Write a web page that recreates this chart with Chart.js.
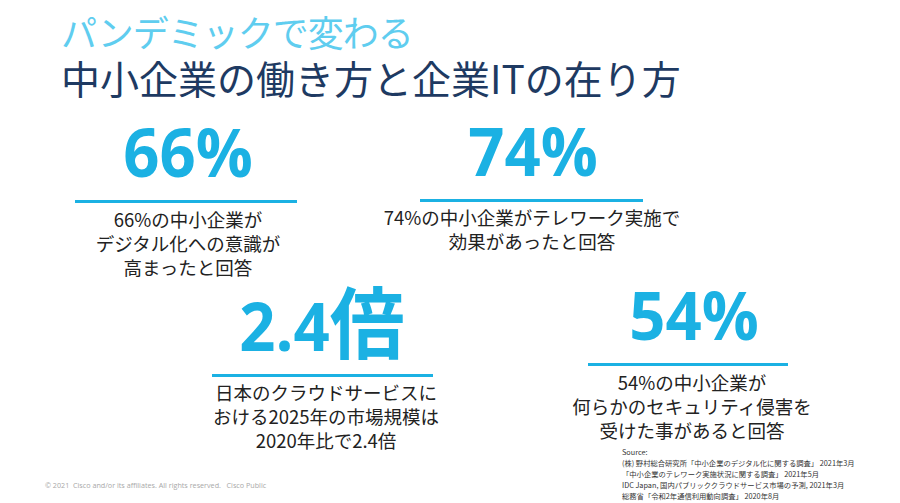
<!DOCTYPE html>
<html lang="ja">
<head>
    <meta charset="UTF-8">
    <title>パンデミックで変わる 中小企業の働き方と企業ITの在り方</title>
    <script src="https://cdn.jsdelivr.net/npm/chart.js"></script>
    <style>
        html, body { margin: 0; padding: 0; background: #fff; }
        body { width: 900px; height: 503px; position: relative; overflow: hidden;
               font-family: 'Noto Sans CJK JP', 'Noto Sans', sans-serif; }
        .t1 { position: absolute; left: 61px; top: 6px; font-size: 36px; letter-spacing: -1px; line-height: 50px; color: #5fcdef; }
        .t2 { position: absolute; left: 61px; top: 52px; font-size: 39px; line-height: 50px; color: #1e3a62; }
        .note { position: absolute; width: 340px; text-align: center; font-size: 18.5px; line-height: 24px; color: #222; }
        .src { position: absolute; left: 622px; top: 447px; font-size: 7.3px; line-height: 11px; color: #333; white-space: pre; }
        .foot { position: absolute; left: 45px; top: 480px; font-family: 'Open Sans', sans-serif; font-size: 7.2px; color: #a8a8a8; white-space: pre; }
    </style>
</head>
<body>
    <div class="t1" id="title1"></div>
    <div class="t2" id="title2"></div>
    <div id="cards"></div>
    <div class="src" id="sources"></div>
    <div class="foot" id="footer"></div>

    <script>
        const titleLines = ['パンデミックで変わる', '中小企業の働き方と企業ITの在り方'];
        const statValues = [66, 74, 2.4, 54];
        const statUnits = ['%', '%', '倍', '%'];
        const statNotes = [
            ['66%の中小企業が', 'デジタル化への意識が', '高まったと回答'],
            ['74%の中小企業がテレワーク実施で', '効果があったと回答'],
            ['日本のクラウドサービスに', 'おける2025年の市場規模は', '2020年比で2.4倍'],
            ['54%の中小企業が', '何らかのセキュリティ侵害を', '受けた事があると回答']
        ];
        const sourceLines = [
            'Source:',
            '(株) 野村総合研究所「中小企業のデジタル化に関する調査」 2021年3月',
            '「中小企業のテレワーク実施状況に関する調査」 2021年5月',
            'IDC Japan, 国内パブリッククラウドサービス市場の予測, 2021年3月',
            '総務省「令和2年通信利用動向調査」 2020年8月'
        ];
        const footerText = '© 2021  Cisco and/or its affiliates. All rights reserved.   Cisco Public';

        // where each card sits on the slide: rule left/width/y, number centre, note centre + first line y
        const layout = [
            { x: 75,  w: 222, y: 201, numX: 188, noteX: 188, noteY: 219 },
            { x: 420, w: 223, y: 200, numX: 533, noteX: 532, noteY: 217 },
            { x: 212, w: 221, y: 375, numX: 322, noteX: 326, noteY: 392 },
            { x: 588, w: 200, y: 364, numX: 694, noteX: 692, noteY: 382 }
        ];

        document.getElementById('title1').textContent = titleLines[0];
        document.getElementById('title2').textContent = titleLines[1];
        document.getElementById('sources').textContent = sourceLines.join('\n');
        document.getElementById('footer').textContent = footerText;

        const blue = '#1bb1e3';

        // big figure drawn above the rule
        const bigNumber = {
            id: 'bigNumber',
            afterDraw(chart) {
                const o = chart.options.plugins.bigNumber;
                const ctx = chart.ctx;
                const area = chart.chartArea;
                const numFont = "700 66px 'Open Sans'";
                const unitFont = o.unit === '%' ? numFont : "700 78px 'Noto Sans CJK JP'";
                const num = String(o.value);
                ctx.save();
                ctx.fillStyle = blue;
                ctx.textBaseline = 'alphabetic';
                ctx.textAlign = 'left';
                ctx.translate((area.left + area.right) / 2 + o.dx, area.top - 23);
                ctx.scale(0.96, 1);
                ctx.font = numFont;
                const wNum = ctx.measureText(num).width;
                ctx.font = unitFont;
                const wUnit = ctx.measureText(o.unit).width;
                const start = -(wNum + wUnit) / 2;
                ctx.font = numFont;
                ctx.fillText(num, start, 0);
                ctx.font = unitFont;
                ctx.fillText(o.unit, start + wNum, o.unit === '%' ? 0 : 2);
                ctx.restore();
            }
        };

        const cards = document.getElementById('cards');
        statValues.forEach((v, i) => {
            const L = layout[i];
            const pad = 30;
            const canvas = document.createElement('canvas');
            canvas.width = L.w + pad * 2;
            canvas.height = 100;
            canvas.style.position = 'absolute';
            canvas.style.left = (L.x - pad) + 'px';
            canvas.style.top = (L.y - 97.5) + 'px';
            cards.appendChild(canvas);

            // the rule under the figure is a single full-width bar
            new Chart(canvas, {
                type: 'bar',
                data: {
                    labels: [statValues[i] + statUnits[i]],
                    datasets: [{ data: [1], backgroundColor: blue, barThickness: 3, borderWidth: 0 }]
                },
                options: {
                    indexAxis: 'y',
                    responsive: false,
                    animation: false,
                    layout: { padding: { left: pad, right: pad, top: 96, bottom: 1 } },
                    scales: {
                        x: { display: false, min: 0, max: 1 },
                        y: { display: false }
                    },
                    plugins: {
                        legend: { display: false },
                        tooltip: { enabled: false },
                        bigNumber: { value: v, unit: statUnits[i], dx: L.numX - (L.x + L.w / 2) }
                    }
                },
                plugins: [bigNumber]
            });

            const note = document.createElement('div');
            note.className = 'note';
            note.style.left = (L.noteX - 170) + 'px';
            note.style.top = (L.noteY - 12) + 'px';
            note.innerHTML = statNotes[i].join('<br>');
            cards.appendChild(note);
        });
    </script>
</body>
</html>
